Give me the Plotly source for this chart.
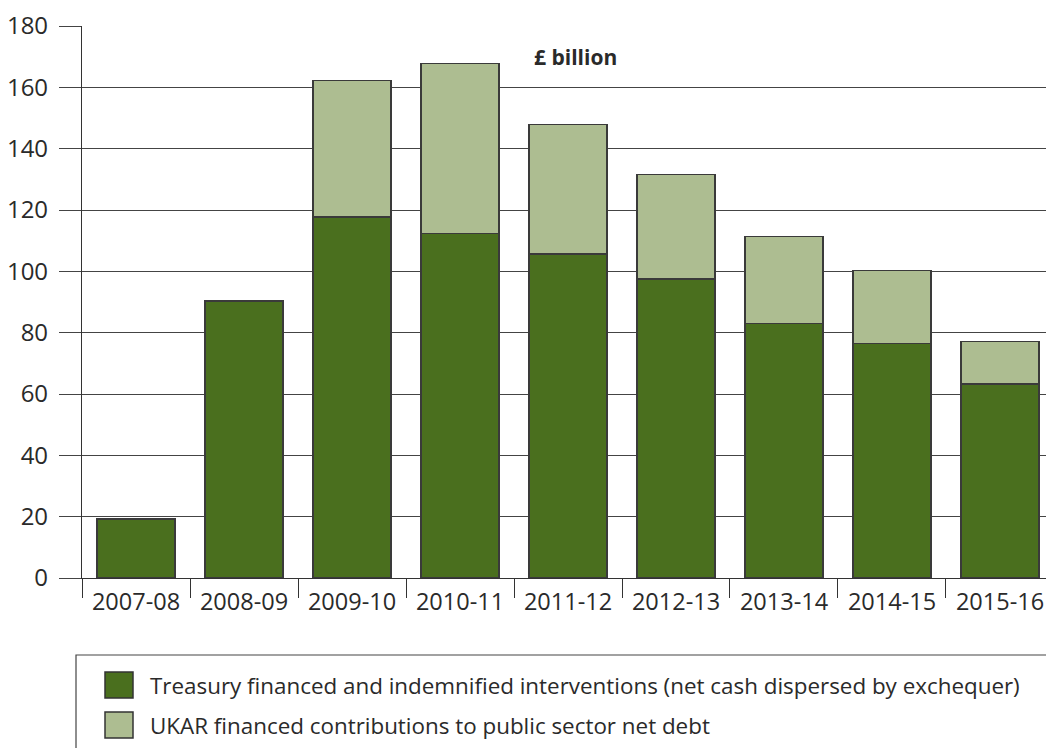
import plotly.graph_objects as go

# Financial years shown on the category axis
years = ["2007-08", "2008-09", "2009-10", "2010-11", "2011-12",
         "2012-13", "2013-14", "2014-15", "2015-16"]

# £ billion, Treasury financed and indemnified interventions
treasury = [19.2, 90.3, 117.8, 112.3, 105.7, 97.5, 83.0, 76.5, 63.3]

# £ billion, UKAR financed contributions (stacked on top)
ukar = [0.0, 0.0, 44.5, 55.5, 42.2, 34.1, 28.3, 23.7, 13.8]

y_ticks = [0, 20, 40, 60, 80, 100, 120, 140, 160, 180]

series_names = [
    "Treasury financed and indemnified interventions (net cash dispersed by exchequer)",
    "UKAR financed contributions to public sector net debt",
]

DARK = "#4a6f1e"
LIGHT = "#adbd91"
EDGE = "#3a3a3a"
TEXT = "#2a2a2a"
FONT = "Open Sans, Noto Sans, sans-serif"

W, H = 1046, 748
ML, MR, MT, MB = 82, 0, 26, 170
PW, PH = W - ML - MR, H - MT - MB


def px_x(x):
    return (x - ML) / PW


def px_y(y):
    return (H - MB - y) / PH


fig = go.Figure()
fig.add_trace(go.Bar(
    x=years, y=treasury, name=series_names[0],
    marker=dict(color=DARK, line=dict(color=EDGE, width=1.5)),
    width=0.722,
))
fig.add_trace(go.Bar(
    x=years, y=ukar, name=series_names[1],
    marker=dict(color=LIGHT, line=dict(color=EDGE, width=1.5)),
    width=0.722,
))

# Legend drawn as a framed box with swatches beneath the plot
shapes = [
    dict(type="rect", xref="paper", yref="paper",
         x0=px_x(76), x1=px_x(1060), y0=px_y(655), y1=px_y(760),
         line=dict(color="#444", width=1.2), fillcolor="rgba(0,0,0,0)"),
]
annotations = []
swatch_rows = [(672, 698, DARK), (712, 738, LIGHT)]
for (top, bottom, colr), label in zip(swatch_rows, series_names):
    shapes.append(dict(type="rect", xref="paper", yref="paper",
                       x0=px_x(105), x1=px_x(133), y0=px_y(bottom), y1=px_y(top),
                       line=dict(color="#333", width=1.5), fillcolor=colr))
    annotations.append(dict(xref="paper", yref="paper",
                            x=px_x(148), y=px_y((top + bottom) / 2),
                            xanchor="left", yanchor="middle", showarrow=False,
                            text=label, font=dict(family=FONT, size=22.4, color=TEXT)))

annotations.append(dict(xref="paper", yref="paper", x=px_x(575), y=px_y(57),
                        xanchor="center", yanchor="middle", showarrow=False,
                        text="<b>£ billion</b>",
                        font=dict(family=FONT, size=21, color=TEXT)))

fig.update_layout(
    width=W, height=H,
    margin=dict(l=ML, r=MR, t=MT, b=MB, pad=0),
    barmode="stack",
    bargap=0.278,
    showlegend=False,
    plot_bgcolor="white", paper_bgcolor="white",
    font=dict(family=FONT, size=24, color=TEXT),
    shapes=shapes,
    annotations=annotations,
    xaxis=dict(
        type="category",
        range=[-0.5, 8.426],
        tickson="boundaries",
        ticks="outside", ticklen=19, tickwidth=1.2, tickcolor="#333",
        showline=True, linecolor="#333", linewidth=1.2,
        showgrid=False,
        tickfont=dict(family=FONT, size=23.5, color=TEXT),
        ticklabelstandoff=3,
    ),
    yaxis=dict(
        range=[0, 180],
        tickvals=y_ticks,
        ticks="outside", ticklen=22, tickwidth=1.2, tickcolor="#444",
        showgrid=True, gridcolor="#444", gridwidth=1.2,
        showline=True, linecolor="#333", linewidth=1.2,
        zeroline=False,
        tickfont=dict(family=FONT, size=24, color=TEXT),
        ticklabelstandoff=6,
    ),
)

fig.write_html("out.html")
